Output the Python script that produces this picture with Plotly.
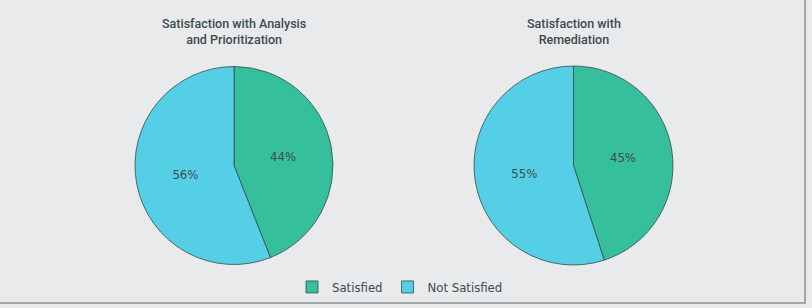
import plotly.graph_objects as go

labels = ["Satisfied", "Not Satisfied"]
analysis_values = [44, 56]
remediation_values = [45, 55]
titles = ["Satisfaction with Analysis<br>and Prioritization", "Satisfaction with<br>Remediation"]

colors = ["#36bf9d", "#55cfe6"]
bg = "#e8eaeb"
txt = "#3d4a50"
font_family = "DejaVu Sans Condensed, Liberation Sans Narrow, Roboto, sans-serif"
title_family = "Roboto, DejaVu Sans Condensed, sans-serif"

W, H = 812, 308
def px(x):
    return x / W
def py(y):
    return 1 - y / H

fig = go.Figure()
domains = [
    dict(x=[px(135), px(333)], y=[py(265), py(66)]),
    dict(x=[px(474), px(673)], y=[py(265), py(66)]),
]
for i, vals in enumerate([analysis_values, remediation_values]):
    fig.add_trace(go.Pie(
        labels=labels, values=vals, sort=False, direction="clockwise", rotation=0,
        marker=dict(colors=colors, line=dict(color="#3a4a4a", width=0.8)),
        textinfo="percent", texttemplate="%{value}%", textposition="inside",
        insidetextorientation="horizontal",
        textfont=dict(color=txt, size=13, family=font_family),
        domain=domains[i], showlegend=(i == 0), hoverinfo="label+percent",
    ))

for i, t in enumerate(titles):
    cx = (domains[i]["x"][0] + domains[i]["x"][1]) / 2
    fig.add_annotation(text=t, x=cx, y=py(31), xref="paper", yref="paper",
                       showarrow=False, font=dict(size=12.5, color=txt, family=title_family, weight=500),
                       align="center", xanchor="center", yanchor="middle")

fig.add_shape(type="line", xref="paper", yref="paper", x0=px(805), x1=px(805), y0=py(303), y1=1,
              line=dict(color="#a3a7a9", width=2))
fig.add_shape(type="line", xref="paper", yref="paper", x0=0, x1=px(806), y0=py(303), y1=py(303),
              line=dict(color="#a3a7a9", width=2))

fig.update_layout(
    width=W, height=H, margin=dict(l=0, r=0, t=0, b=0),
    paper_bgcolor=bg, plot_bgcolor=bg,
    legend=dict(orientation="h", x=px(400), xanchor="center", y=py(287), yanchor="middle",
                font=dict(size=13, color=txt, family=font_family), itemwidth=30,
                traceorder="normal"),
)
fig.write_html("out.html")
